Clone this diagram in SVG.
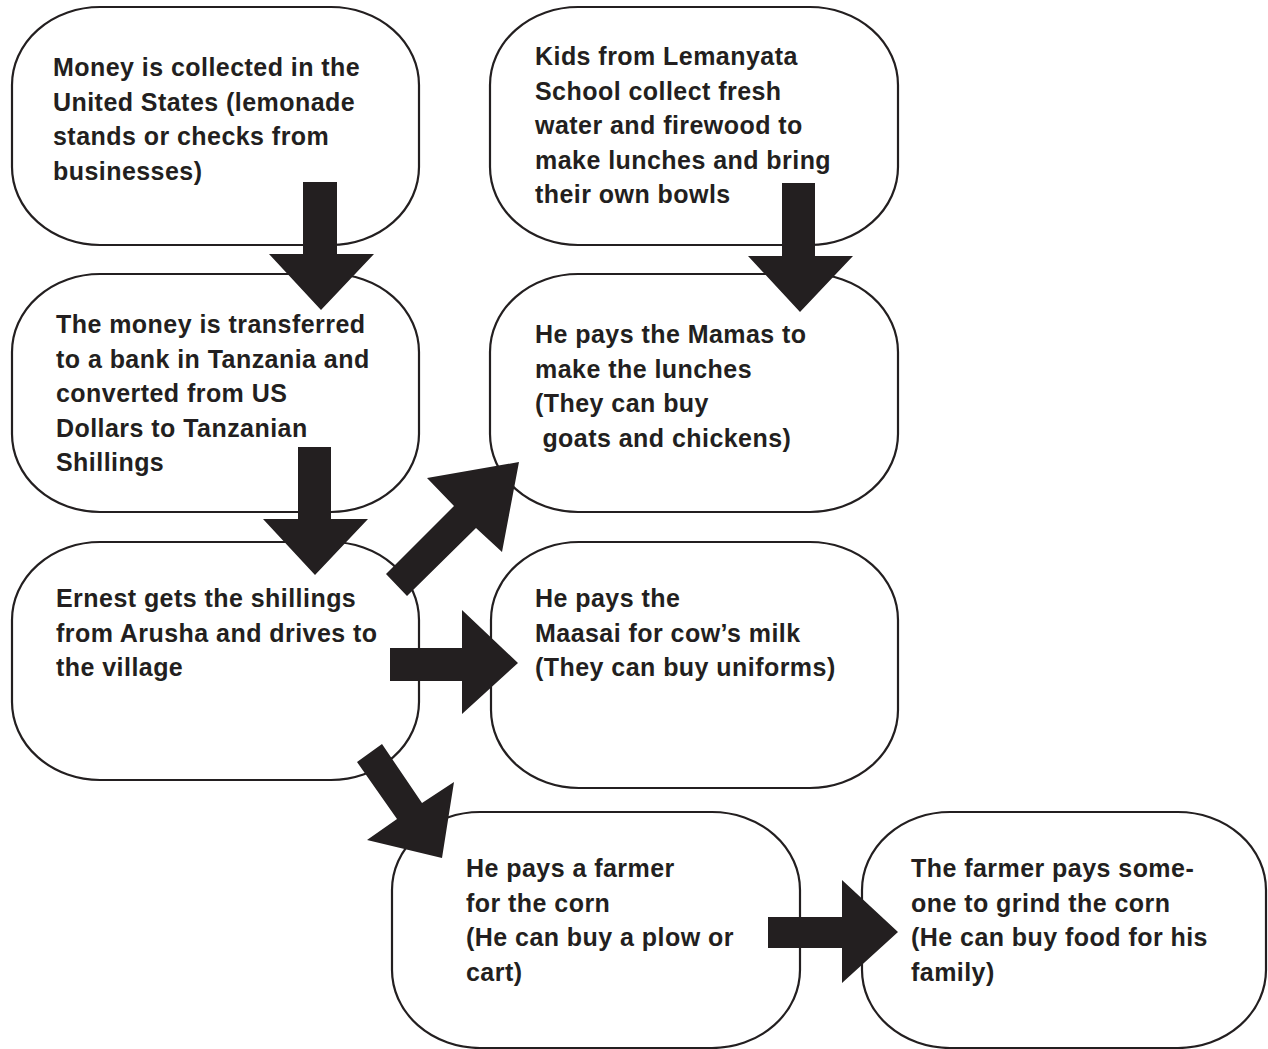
<svg xmlns="http://www.w3.org/2000/svg" width="1268" height="1049" viewBox="0 0 1268 1049">
  <style>
    .box { fill: #ffffff; stroke: #231f20; stroke-width: 2.2; }
    .lbl { font-family: "Liberation Sans", Arial, sans-serif; font-weight: bold; font-size: 25px; fill: #231f20; letter-spacing: 0.45px; }
    .arrow { fill: #231f20; stroke: none; }
  </style>
  <rect width="1268" height="1049" fill="#ffffff"/>

  <g id="nodes">
    <g id="n-collect">
      <rect class="box" x="12" y="7" width="407" height="238" rx="88" ry="78"/>
      <text class="lbl" x="53" y="76">Money is collected in the</text>
      <text class="lbl" x="53" y="110.7">United States (lemonade</text>
      <text class="lbl" x="53" y="145.3">stands or checks from</text>
      <text class="lbl" x="53" y="180">businesses)</text>
    </g>
    <g id="n-transfer">
      <rect class="box" x="12" y="274" width="407" height="238" rx="88" ry="78"/>
      <text class="lbl" x="56" y="333">The money is transferred</text>
      <text class="lbl" x="56" y="367.5">to a bank in Tanzania and</text>
      <text class="lbl" x="56" y="402">converted from US</text>
      <text class="lbl" x="56" y="436.5">Dollars to Tanzanian</text>
      <text class="lbl" x="56" y="471">Shillings</text>
    </g>
    <g id="n-ernest">
      <rect class="box" x="12" y="542" width="407" height="238" rx="88" ry="78"/>
      <text class="lbl" x="56" y="607">Ernest gets the shillings</text>
      <text class="lbl" x="56" y="641.5">from Arusha and drives to</text>
      <text class="lbl" x="56" y="676">the village</text>
    </g>
    <g id="n-kids">
      <rect class="box" x="490" y="7" width="408" height="238" rx="88" ry="78"/>
      <text class="lbl" x="535" y="65">Kids from Lemanyata</text>
      <text class="lbl" x="535" y="99.5">School collect fresh</text>
      <text class="lbl" x="535" y="134">water and firewood to</text>
      <text class="lbl" x="535" y="168.5">make lunches and bring</text>
      <text class="lbl" x="535" y="203">their own bowls</text>
    </g>
    <g id="n-mamas">
      <rect class="box" x="490" y="274" width="408" height="238" rx="88" ry="78"/>
      <text class="lbl" x="535" y="343">He pays the Mamas to</text>
      <text class="lbl" x="535" y="377.5">make the lunches</text>
      <text class="lbl" x="535" y="412">(They can buy</text>
      <text class="lbl" x="535" y="446.5" xml:space="preserve"> goats and chickens)</text>
    </g>
    <g id="n-maasai">
      <rect class="box" x="491" y="542" width="407" height="246" rx="88" ry="78"/>
      <text class="lbl" x="535" y="607">He pays the</text>
      <text class="lbl" x="535" y="641.5">Maasai for cow’s milk</text>
      <text class="lbl" x="535" y="676">(They can buy uniforms)</text>
    </g>
    <g id="n-farmer">
      <rect class="box" x="392" y="812" width="408" height="236" rx="88" ry="78"/>
      <text class="lbl" x="466" y="877">He pays a farmer</text>
      <text class="lbl" x="466" y="911.5">for the corn</text>
      <text class="lbl" x="466" y="946">(He can buy a plow or</text>
      <text class="lbl" x="466" y="980.5">cart)</text>
    </g>
    <g id="n-grind">
      <rect class="box" x="862" y="812" width="404" height="236" rx="88" ry="78"/>
      <text class="lbl" x="911" y="877">The farmer pays some-</text>
      <text class="lbl" x="911" y="911.5">one to grind the corn</text>
      <text class="lbl" x="911" y="946">(He can buy food for his</text>
      <text class="lbl" x="911" y="980.5">family)</text>
    </g>
  </g>

  <g id="connectors">
    <!-- collect -> transfer -->
    <polygon class="arrow" points="303,182 337,182 337,254 374,254 321,310 269,254 303,254"/>
    <!-- transfer -> ernest -->
    <polygon class="arrow" points="298,447 331,447 331,519 368,519 315,575 263,519 298,519"/>
    <!-- kids -> mamas -->
    <polygon class="arrow" points="782,183 815,183 815,256 853,256 800,312 748,256 782,256"/>
    <!-- ernest -> mamas -->
    <polygon class="arrow" points="386,574 454,506 427,478 519,462 502,552 476,528 407,596"/>
    <!-- ernest -> maasai -->
    <polygon class="arrow" points="390,648 462,648 462,610 518,663 462,714 462,681 390,681"/>
    <!-- ernest -> farmer -->
    <polygon class="arrow" points="357,762 382,744 422,803 454,782 442,858 367,840 397,819"/>
    <!-- farmer -> grind -->
    <polygon class="arrow" points="768,917 842,917 842,880 898,932 842,983 842,948 768,948"/>
  </g>
</svg>
